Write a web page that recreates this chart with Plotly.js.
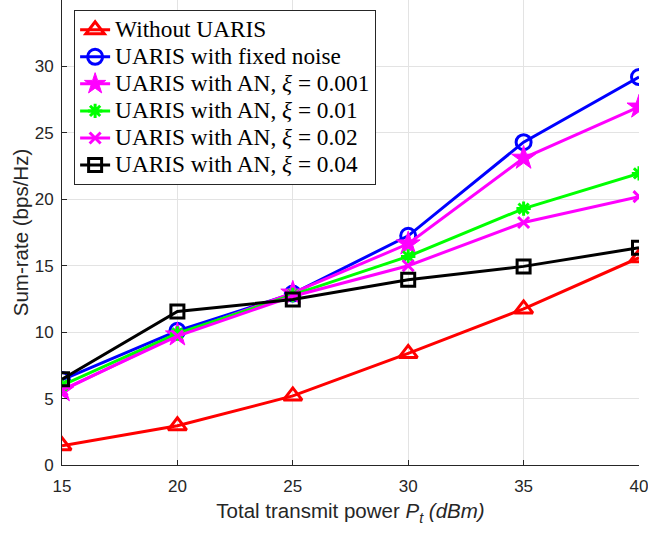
<!DOCTYPE html>
<html><head><meta charset="utf-8">
<script src="https://cdn.plot.ly/plotly-3.0.1.min.js"></script>
<style>body{margin:0;padding:0;background:#fff}#plot{width:648px;height:533px}</style>
</head><body><div id="plot"></div>
<script>
const powerDbm = [15, 20, 25, 30, 35, 40];
const withoutUaris = [1.45, 2.95, 5.2, 8.4, 11.75, 15.6];
const fixedNoise = [6.4, 10.1, 12.9, 17.25, 24.3, 29.2];
const an0001 = [5.6, 9.8, 12.95, 16.65, 23.1, 26.95];
const an001 = [6.0, 9.9, 12.8, 15.7, 19.3, 21.95];
const an002 = [5.65, 9.7, 12.7, 15.0, 18.25, 20.2];
const an004 = [6.45, 11.55, 12.45, 13.95, 14.95, 16.35];
const seriesNames = ["Without UARIS", "UARIS with fixed noise", "UARIS with AN, <i>ξ</i> = 0.001",
  "UARIS with AN, <i>ξ</i> = 0.01", "UARIS with AN, <i>ξ</i> = 0.02", "UARIS with AN, <i>ξ</i> = 0.04"];
const yTicks = [0, 5, 10, 15, 20, 25, 30];

const styles = [
  {color: "#ff0000", symbol: "triangle-up-open", size: 16, lw: 3},
  {color: "#0000ff", symbol: "circle-open", size: 15, lw: 3},
  {color: "#ff00ff", symbol: "star", size: 18, lw: 1},
  {color: "#00ff00", symbol: "asterisk-open", size: 12, lw: 3},
  {color: "#ff00ff", symbol: "x-thin-open", size: 11, lw: 3},
  {color: "#000000", symbol: "square-open", size: 13, lw: 3}
];
const ys = [withoutUaris, fixedNoise, an0001, an001, an002, an004];
const traces = ys.map((y, i) => ({
  x: powerDbm, y: y, name: '<span style="font-size:23.3px">' + seriesNames[i] + '</span>',
  type: "scatter", mode: "lines+markers",
  line: {color: styles[i].color, width: 3},
  marker: {symbol: styles[i].symbol, size: styles[i].size, color: styles[i].color,
    line: {color: styles[i].color, width: styles[i].lw}}
}));

const tickFont = {family: "Liberation Sans, Arial, sans-serif", size: 17, color: "#262626"};
const titleFont = {family: "Liberation Sans, Arial, sans-serif", size: 20.5, color: "#262626"};
const layout = {
  width: 648, height: 533,
  margin: {l: 62, r: 9, t: 0, b: 68},
  paper_bgcolor: "#fff", plot_bgcolor: "#fff",
  showlegend: true,
  legend: {x: 0.021, y: 0.978, xanchor: "left", yanchor: "top",
    bgcolor: "#fff", bordercolor: "#262626", borderwidth: 1,
    font: {family: "Liberation Serif, Times New Roman, serif", size: 18.5, color: "#000"},
    tracegroupgap: 0, itemwidth: 30},
  xaxis: {range: [15, 40], tickvals: powerDbm, showgrid: true, gridcolor: "#e3e3e3",
    zeroline: false, showline: true, linecolor: "#262626", linewidth: 1,
    ticks: "inside", ticklen: 5, tickcolor: "#262626", tickfont: tickFont, ticklabelstandoff: 6,
    ticklabeloverflow: "allow",
    title: {text: "Total transmit power <i>P</i><sub><i>t</i></sub><i> (dBm)</i>",
      font: titleFont, standoff: 8}},
  yaxis: {range: [0, 35], tickvals: yTicks, showgrid: true, gridcolor: "#e3e3e3",
    zeroline: false, showline: true, linecolor: "#262626", linewidth: 1,
    ticks: "inside", ticklen: 5, tickcolor: "#262626", tickfont: tickFont, ticklabelstandoff: 4,
    title: {text: "Sum-rate (bps/Hz)", font: titleFont, standoff: 0}}
};
Plotly.newPlot("plot", traces, layout, {displayModeBar: false, staticPlot: true});
</script></body></html>
